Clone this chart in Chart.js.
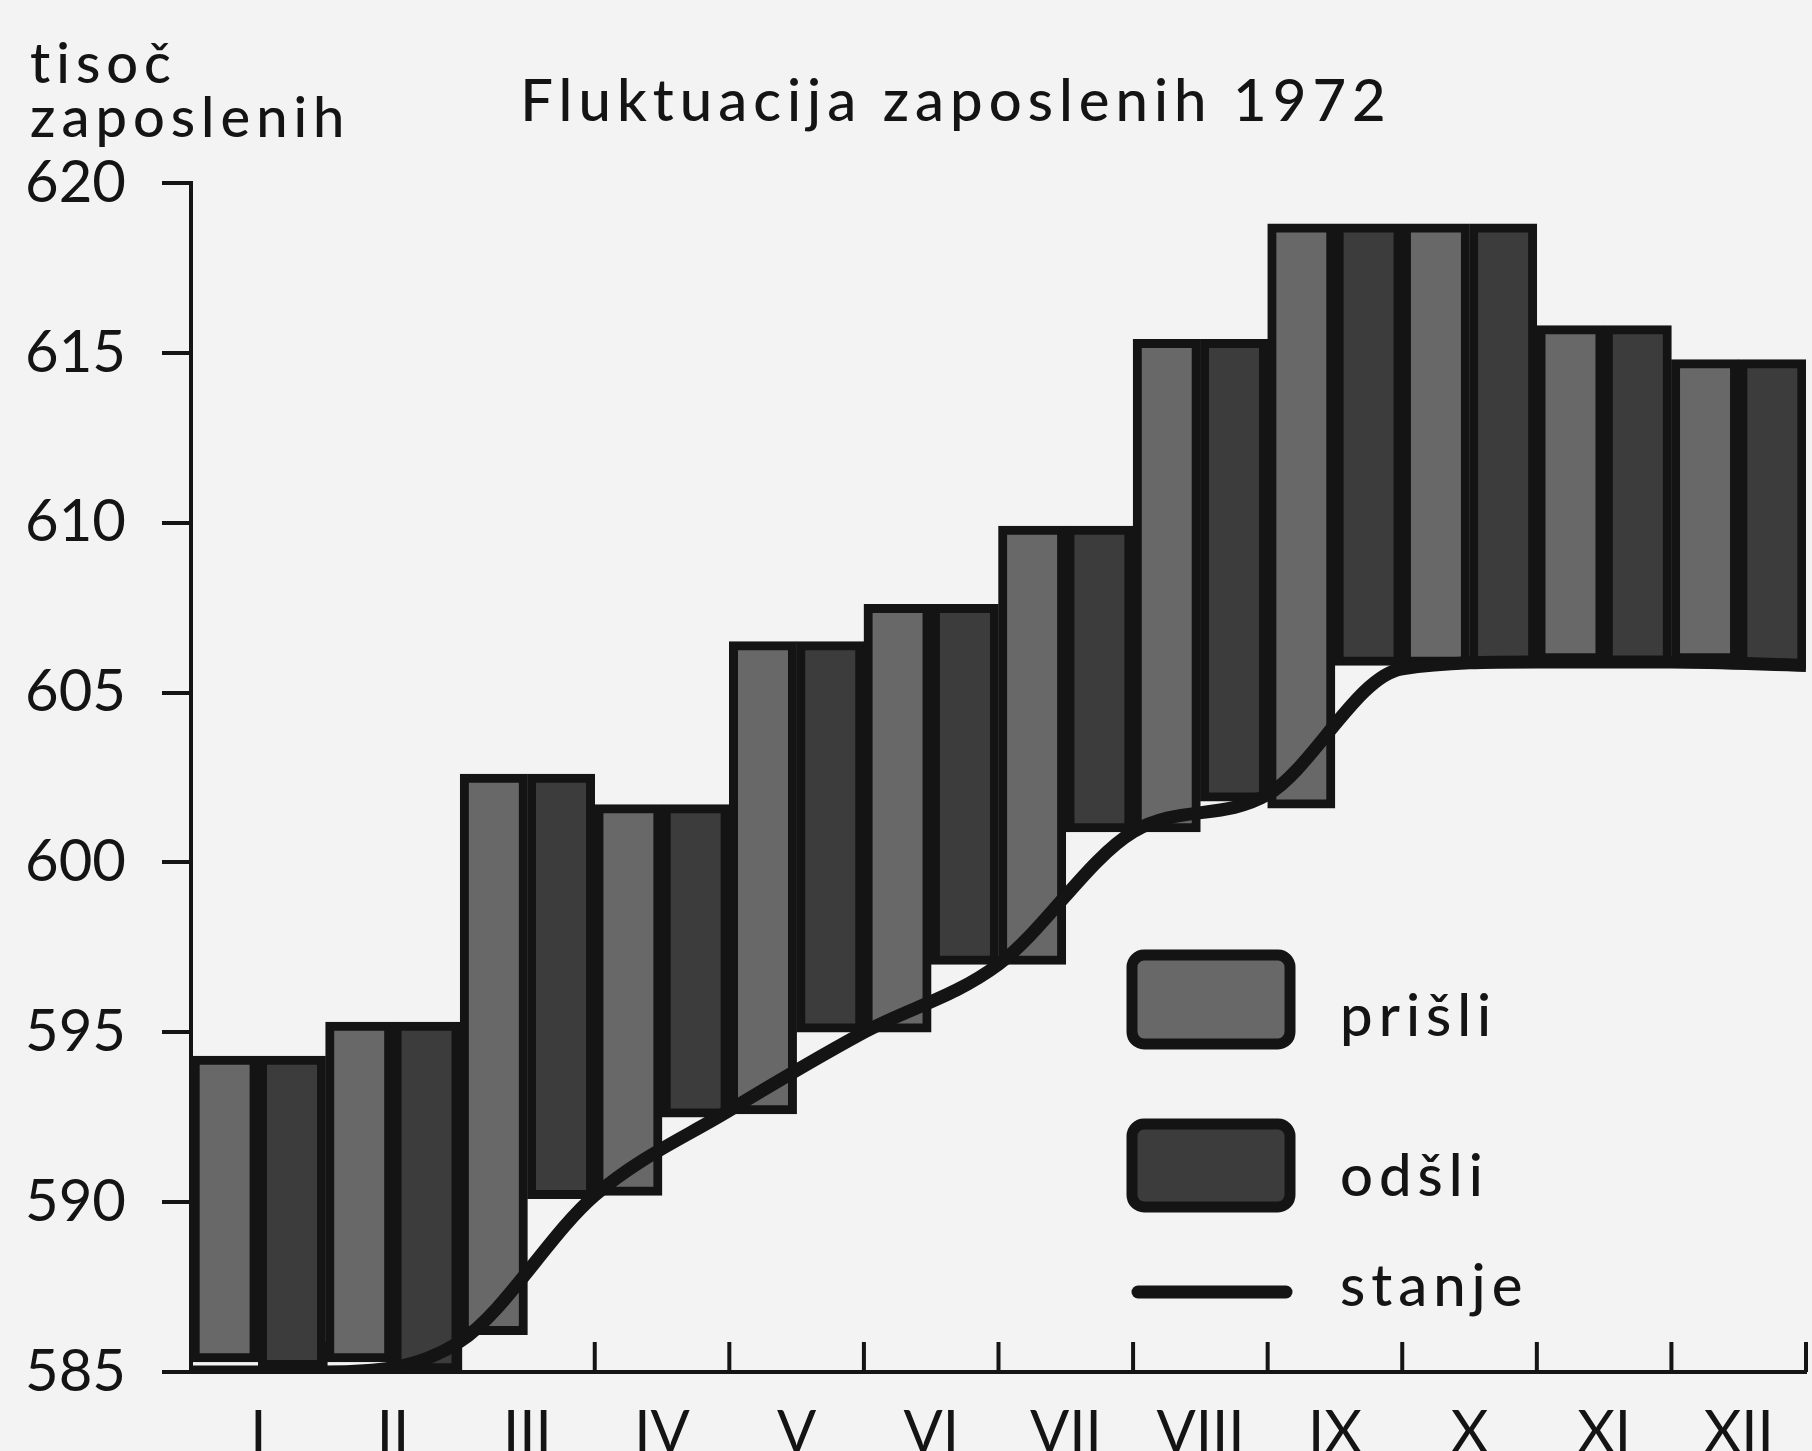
<!DOCTYPE html>
<html>
<head>
<meta charset="utf-8">
<script src="https://cdn.jsdelivr.net/npm/chart.js@4.4.1/dist/chart.umd.min.js"></script>
<style>
html, body { margin: 0; padding: 0; background: #f3f3f3; }
#wrap { width: 1812px; height: 1451px; position: relative; }
</style>
</head>
<body>
<div id="wrap"><canvas id="chart" width="1812" height="1451"></canvas></div>
<script>
// meseci
var months = ['I', 'II', 'III', 'IV', 'V', 'VI', 'VII', 'VIII', 'IX', 'X', 'XI', 'XII'];
// prišli: od stanja na začetku meseca do vrha
var prisliLow  = [585.3, 585.3, 586.1, 590.2, 592.6, 595.0, 597.0, 600.9, 601.6, 605.8, 605.9, 605.9];
var prisliHigh = [594.3, 595.3, 602.6, 601.7, 606.5, 607.6, 609.9, 615.4, 618.8, 618.8, 615.8, 614.8];
// odšli: od vrha navzdol do stanja na koncu meseca
var odsliHigh  = [594.3, 595.3, 602.6, 601.7, 606.5, 607.6, 609.9, 615.4, 618.8, 618.8, 615.8, 614.8];
var odsliLow   = [585.1, 585.0, 590.1, 592.5, 595.0, 597.0, 600.9, 601.8, 605.8, 605.8, 605.8, 605.7];
// stanje na mejah mesecev (0 = začetek januarja)
var stanje = [585.0, 585.0, 585.9, 590.2, 592.7, 595.0, 597.0, 600.9, 602.0, 605.7, 605.9, 605.9, 605.8];
var yMin = 585, yMax = 620, yStep = 5;

var FONT = 'Lato, "Liberation Sans", sans-serif';
var colPrisli = '#686868';
var colOdsli = '#3c3c3c';
var colInk = '#141414';

// meseci so na sredini intervalov [i, i+1], stanje na mejah
var prisliData = [], odsliData = [], stanjeData = [];
for (var i = 0; i < months.length; i++) {
	prisliData.push({ x: i + 0.5, y: [prisliLow[i], prisliHigh[i]] });
	odsliData.push({ x: i + 0.5, y: [odsliLow[i], odsliHigh[i]] });
}
for (var j = 0; j < stanje.length; j++) {
	stanjeData.push({ x: j, y: stanje[j] });
}

// naslov, enota, kljukice na x osi in legenda
var decorPlugin = {
	id: 'decor',
	beforeDatasetsDraw: function(chart) {
		var ctx = chart.ctx;
		var xs = chart.scales.x;
		var bottom = chart.chartArea.bottom;
		ctx.save();
		ctx.strokeStyle = colInk;
		ctx.lineWidth = 4;
		for (var k = 1; k <= months.length; k++) {
			var px = xs.getPixelForValue(k);
			ctx.beginPath();
			ctx.moveTo(px, bottom);
			ctx.lineTo(px, bottom - 30);
			ctx.stroke();
		}
		ctx.restore();
	},
	afterDraw: function(chart) {
		var ctx = chart.ctx;
		ctx.save();
		ctx.fillStyle = colInk;
		ctx.textBaseline = 'alphabetic';

		// naslov
		ctx.font = '500 58px ' + FONT;
		ctx.letterSpacing = '6px';
		ctx.textAlign = 'center';
		ctx.fillText('Fluktuacija zaposlenih 1972', 956, 121);

		// enota
		ctx.textAlign = 'left';
		ctx.font = '500 56px ' + FONT;
		ctx.letterSpacing = '6px';
		ctx.fillText('tisoč', 30, 83);
		ctx.fillText('zaposlenih', 30, 137);

		// legenda
		var ds = chart.data.datasets;
		function box(x, y, w, h, fill) {
			ctx.beginPath();
			ctx.roundRect(x, y, w, h, 12);
			ctx.fillStyle = fill;
			ctx.fill();
			ctx.lineWidth = 11;
			ctx.strokeStyle = colInk;
			ctx.stroke();
		}
		box(1132, 955, 158, 89, ds[0].backgroundColor);
		box(1132, 1124, 158, 83, ds[1].backgroundColor);
		ctx.beginPath();
		ctx.lineCap = 'round';
		ctx.lineWidth = 13;
		ctx.strokeStyle = colInk;
		ctx.moveTo(1138, 1292);
		ctx.lineTo(1286, 1292);
		ctx.stroke();

		ctx.fillStyle = colInk;
		ctx.font = '500 58px ' + FONT;
		ctx.letterSpacing = '6px';
		ctx.fillText(ds[0].label, 1340, 1036);
		ctx.fillText(ds[1].label, 1340, 1196);
		ctx.fillText(ds[2].label, 1340, 1306);
		ctx.restore();
	}
};

var ctx = document.getElementById('chart').getContext('2d');
var chart = new Chart(ctx, {
	type: 'bar',
	data: {
		datasets: [
			{
				label: 'prišli',
				data: prisliData,
				backgroundColor: colPrisli,
				borderColor: colInk,
				borderWidth: 9,
				borderSkipped: false,
				categoryPercentage: 1,
				barPercentage: 1,
				order: 1
			},
			{
				label: 'odšli',
				data: odsliData,
				backgroundColor: colOdsli,
				borderColor: colInk,
				borderWidth: 9,
				borderSkipped: false,
				categoryPercentage: 1,
				barPercentage: 1,
				order: 2
			},
			{
				type: 'line',
				label: 'stanje',
				data: stanjeData,
				borderColor: colInk,
				borderWidth: 13,
				pointRadius: 0,
				cubicInterpolationMode: 'monotone',
				fill: false,
				order: 0
			}
		]
	},
	options: {
		responsive: false,
		animation: false,
		layout: { padding: { top: 183, right: 6, left: 0, bottom: 0 } },
		plugins: {
			legend: { display: false },
			tooltip: { enabled: false }
		},
		scales: {
			x: {
				type: 'linear',
				min: 0,
				max: months.length,
				offset: false,
				afterBuildTicks: function(scale) {
					scale.ticks = months.map(function(m, idx) { return { value: idx + 0.5 }; });
				},
				grid: { display: false, drawTicks: false },
				border: { display: true, color: colInk, width: 4 },
				ticks: {
					color: colInk,
					font: { family: FONT, size: 58 },
					padding: 26,
					maxRotation: 0,
					autoSkip: false,
					callback: function(value, index) { return months[index]; }
				},
				afterFit: function(scale) { scale.height = 79; }
			},
			y: {
				min: yMin,
				max: yMax,
				ticks: {
					stepSize: yStep,
					color: colInk,
					font: { family: FONT, size: 58 },
					padding: 36
				},
				grid: {
					drawOnChartArea: false,
					color: colInk,
					lineWidth: 4,
					tickLength: 29
				},
				border: { display: true, color: colInk, width: 4 },
				afterFit: function(scale) { scale.width = 191; }
			}
		}
	},
	plugins: [decorPlugin]
});
</script>
</body>
</html>
